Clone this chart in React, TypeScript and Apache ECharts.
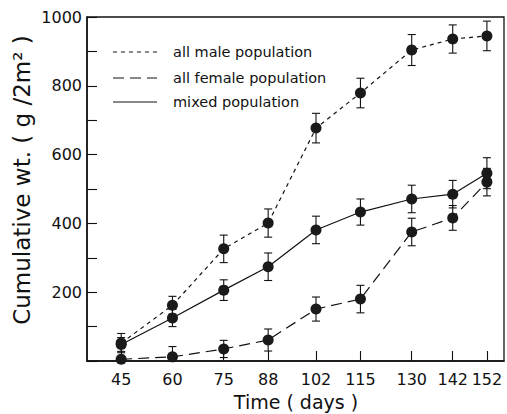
import React, { useEffect, useRef } from "react";
import * as echarts from "echarts";

const days = [45, 60, 75, 88, 102, 115, 130, 142, 152];
const male = [52, 162, 326, 401, 677, 779, 904, 936, 945];
const maleErr = [28, 26, 40, 41, 43, 43, 45, 41, 43];
const female = [5, 12, 35, 61, 151, 180, 375, 416, 520];
const femaleErr = [0, 30, 25, 32, 35, 40, 40, 36, 40];
const mixed = [48, 125, 206, 274, 381, 433, 471, 485, 546];
const mixedErr = [20, 25, 30, 40, 40, 38, 40, 40, 45];
const legendNames = ["all male population", "all female population", "mixed population"];
const yTitle = "Cumulative wt. ( g /2m² )";
const xTitle = "Time ( days )";

const INK = "#111";
const FONT = "DejaVu Sans";

function pts(vals: number[]) {
  return days.map((d, i) => [d, vals[i]]);
}
function errs(vals: number[], e: number[]) {
  return days.map((d, i) => [d, Math.max(0, vals[i] - e[i]), vals[i] + e[i]]);
}

function errRender(params: any, api: any) {
  const x = api.value(0);
  const lo = api.coord([x, api.value(1)]);
  const hi = api.coord([x, api.value(2)]);
  const w = 4;
  const style = { stroke: INK, lineWidth: 1.1 };
  return {
    type: "group",
    children: [
      { type: "line", shape: { x1: lo[0], y1: lo[1], x2: hi[0], y2: hi[1] }, style },
      { type: "line", shape: { x1: hi[0] - w, y1: hi[1], x2: hi[0] + w, y2: hi[1] }, style },
      { type: "line", shape: { x1: lo[0] - w, y1: lo[1], x2: lo[0] + w, y2: lo[1] }, style },
    ],
  };
}

export default function App() {
  const ref = useRef<HTMLDivElement>(null);
  useEffect(() => {
    if (!ref.current) return;
    const chart = echarts.init(ref.current, null, { renderer: "svg" });
    const dashes = [[4, 4], [11, 6], null];
    const legendY = [52, 78, 102];
    const graphic: any[] = [];
    legendNames.forEach((n, i) => {
      graphic.push({
        type: "line",
        shape: { x1: 113, y1: legendY[i], x2: 157, y2: legendY[i] },
        style: { stroke: INK, lineWidth: 1.2, lineDash: dashes[i] || undefined },
      });
      graphic.push({
        type: "text",
        x: 173,
        y: legendY[i],
        style: { text: n, font: `14.5px "${FONT}"`, fill: INK, textVerticalAlign: "middle" },
      });
    });
    graphic.push({
      type: "text",
      x: 22,
      y: 180,
      rotation: Math.PI / 2,
      style: {
        text: yTitle,
        font: `23px "${FONT}"`,
        fill: INK,
        textAlign: "center",
        textVerticalAlign: "middle",
      },
    });
    graphic.push({
      type: "text",
      x: 296,
      y: 402,
      style: {
        text: xTitle,
        font: `19px "${FONT}"`,
        fill: INK,
        textAlign: "center",
        textVerticalAlign: "middle",
      },
    });
    const lineSeries = (name: string, vals: number[], type: any) => ({
      name,
      type: "line",
      data: pts(vals),
      symbol: "circle",
      symbolSize: 11,
      itemStyle: { color: "#1a1a1a" },
      lineStyle: { color: INK, width: 1.2, type },
      z: 3,
    });
    const errSeries = (vals: number[], e: number[]) => ({
      type: "custom",
      renderItem: errRender,
      data: errs(vals, e),
      encode: { x: 0, y: [1, 2] },
      z: 2,
    });
    chart.setOption({
      animation: false,
      backgroundColor: "#fff",
      grid: { left: 87, right: 3, top: 17, bottom: 53, show: true, borderColor: INK, borderWidth: 1.3 },
      xAxis: {
        type: "value",
        min: 35,
        max: 157,
        axisLine: { lineStyle: { color: INK, width: 1.5 } },
        axisTick: { inside: true, length: 10, customValues: days, lineStyle: { color: INK, width: 1.1 } },
        axisLabel: { customValues: days, fontFamily: FONT, fontSize: 16, color: INK, margin: 10 },
        splitLine: { show: false },
      },
      yAxis: {
        type: "value",
        min: 0,
        max: 1000,
        interval: 100,
        axisLine: { show: true, lineStyle: { color: INK, width: 1.5 } },
        axisTick: { inside: true, length: 10, lineStyle: { color: INK, width: 1.1 } },
        axisLabel: {
          fontFamily: FONT,
          fontSize: 16,
          color: INK,
          margin: 5,
          formatter: (v: number) => (v > 0 && v % 200 === 0 ? String(v) : ""),
        },
        splitLine: { show: false },
      },
      graphic,
      series: [
        errSeries(male, maleErr),
        errSeries(female, femaleErr),
        errSeries(mixed, mixedErr),
        lineSeries(legendNames[0], male, [4, 4]),
        lineSeries(legendNames[1], female, [11, 6]),
        lineSeries(legendNames[2], mixed, "solid"),
      ],
    });
    return () => chart.dispose();
  }, []);
  return (
    <div
      ref={ref}
      style={{ position: "fixed", left: 0, top: 0, width: 507, height: 414, background: "#fff" }}
    />
  );
}
